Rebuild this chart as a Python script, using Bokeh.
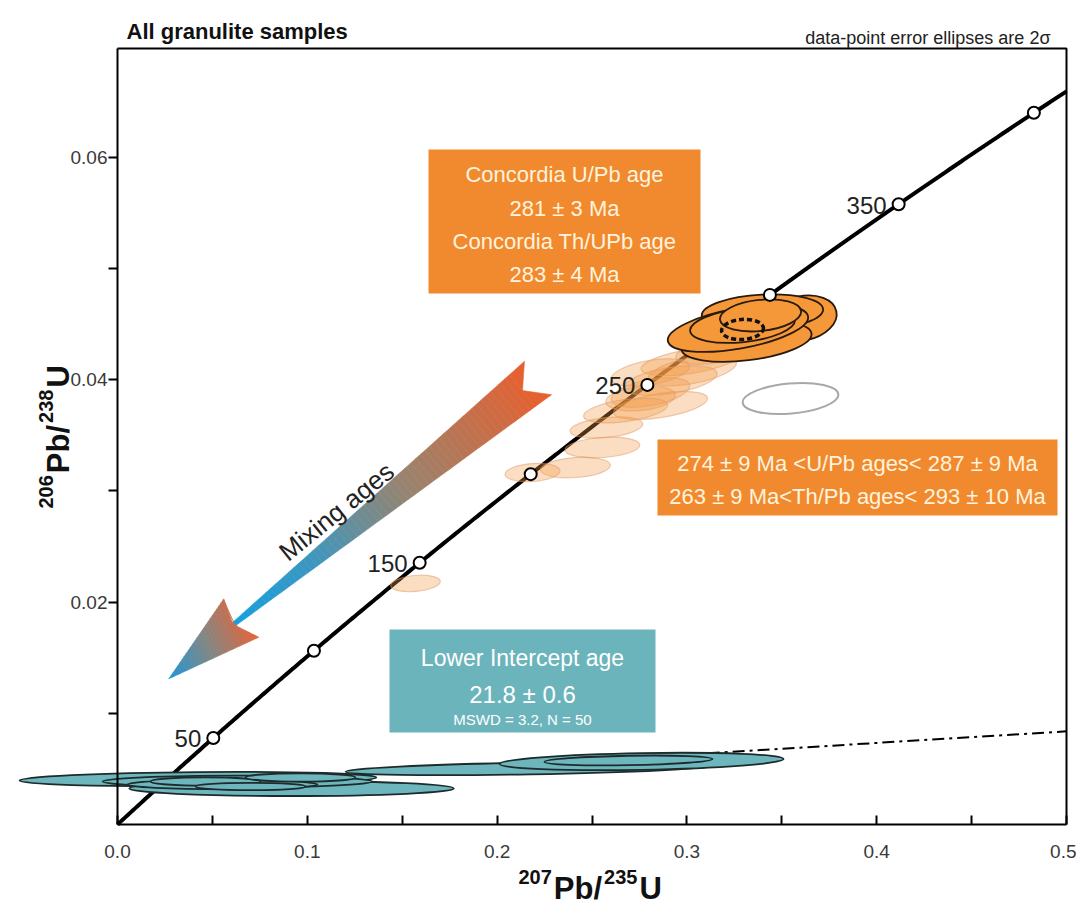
import numpy as np
from bokeh.plotting import figure
from bokeh.models import Range1d, FixedTicker, PrintfTickFormatter, Label, BoxAnnotation
from bokeh.embed import file_html
from bokeh.resources import INLINE
from bokeh.core.properties import value

# ---------------- data ----------------
conc_ages = [50, 100, 150, 200, 250, 300, 350, 400]          # Ma, concordia markers
conc_label_ages = [50, 150, 250, 350]
conc_label_text = ["50", "150", "250", "350"]
LAMBDA_238 = 1.55125e-4   # 1/Ma
LAMBDA_235 = 9.8485e-4    # 1/Ma

disc_x = [0.0217, 0.5]          # discordia (lower intercept 21.8 Ma)
disc_y = [0.00339, 0.00838]

# lower-intercept (cyan) ellipses: centre, full width, full height, tilt (deg)
cyan_x = [0.0424, 0.0917, 0.0632, 0.0553, 0.0464, 0.0701, 0.0964, 0.2176, 0.2761, 0.2692]
cyan_y = [0.00409, 0.00324, 0.00387, 0.00360, 0.00387, 0.00342, 0.00423, 0.00504, 0.00567, 0.00576]
cyan_w = [0.188, 0.171, 0.142, 0.100, 0.058, 0.058, 0.058, 0.195, 0.1496, 0.0885]
cyan_h = [0.00125, 0.00135, 0.00105, 0.00085, 0.00075, 0.00065, 0.00075, 0.00105, 0.00150, 0.00085]
cyan_a = [0.5, 0, 0, 0, 0, 0, 0, 1, 1, 1]

# concordant (solid orange) ellipses
org_x = [0.3609, 0.3398, 0.3314, 0.3269, 0.3293, 0.3388]
org_y = [0.04552, 0.04606, 0.04345, 0.04460, 0.04489, 0.04579]
org_w = [0.0365, 0.0640, 0.0690, 0.0750, 0.0555, 0.0430]
org_h = [0.00400, 0.00320, 0.00340, 0.00360, 0.00300, 0.00280]
org_a = [12, 3, 7, 10, 6, 6]

# concordia age ellipse (dashed)
cage_x, cage_y, cage_w, cage_h = [0.3293], [0.04453], [0.0221], [0.0018]

# mixing (pale orange) ellipses
pale_x = [0.3019, 0.3029, 0.2914, 0.2861, 0.2808, 0.2756, 0.2576, 0.2555, 0.2413, 0.2187, 0.1570, 0.2677, 0.2808, 0.3124]
pale_y = [0.04165, 0.04084, 0.03994, 0.03769, 0.03886, 0.03832, 0.03571, 0.03391, 0.03211, 0.03166, 0.02168, 0.03724, 0.04066, 0.04246]
pale_w = [0.0527, 0.0474, 0.0495, 0.0501, 0.0421, 0.0369, 0.0385, 0.0395, 0.0369, 0.0290, 0.0263, 0.0448, 0.0421, 0.0369]
pale_h = [0.00216, 0.00234, 0.00234, 0.00216, 0.00234, 0.00216, 0.00180, 0.00180, 0.00180, 0.00162, 0.00144, 0.00198, 0.00216, 0.00198]
pale_a = [9, 11, 9, 9, 11, 6, 6, 4, 4, 4, 5, 8, 10, 8]

# excluded (grey) ellipse
grey_x, grey_y, grey_w, grey_h, grey_a = [0.3546], [0.03832], [0.0506], [0.0027], [5]

x_ticks = [0.0, 0.1, 0.2, 0.3, 0.4, 0.5]
x_minor = [0.05, 0.15, 0.25, 0.35, 0.45]
y_ticks = [0.02, 0.04, 0.06]
y_minor = [0.01, 0.03, 0.05]

# ---------------- layout helpers (reference pixel -> data) ----------------
XMAX, YMAX = 0.5, 0.0698
FL, FR, FT, FB = 117, 1066, 48, 824
def dx(px): return (px - FL) / (FR - FL) * XMAX
def dy(py): return (FB - py) / (FB - FT) * YMAX

W, H = 1076, 909
F = "Liberation Sans"
ORANGE_BOX = "#F18A2E"
CYAN_BOX = "#6CB4BC"

# the frame fills the whole canvas; axes are pinned at x=0 / y=0
p = figure(width=W, height=H, x_range=Range1d(dx(0), dx(W)), y_range=Range1d(dy(H), dy(0)),
           output_backend="svg", toolbar_location=None, min_border=0)
p.xgrid.visible = False
p.ygrid.visible = False
p.outline_line_alpha = 0
p.background_fill_color = "white"
p.border_fill_color = "white"

xa = p.xaxis[0]
xa.fixed_location = 0
xa.bounds = (0, XMAX)
xa.ticker = FixedTicker(ticks=x_ticks, minor_ticks=x_minor)
xa.formatter = PrintfTickFormatter(format="%.1f")
xa.major_tick_in = 9; xa.major_tick_out = 0
xa.minor_tick_in = 9; xa.minor_tick_out = 0
ya = p.yaxis[0]
ya.fixed_location = 0
ya.bounds = (0, YMAX)
ya.ticker = FixedTicker(ticks=y_ticks, minor_ticks=y_minor)
ya.formatter = PrintfTickFormatter(format="%.2f")
ya.major_tick_in = 0; ya.major_tick_out = 9
ya.minor_tick_in = 0; ya.minor_tick_out = 9
for ax in (xa, ya):
    ax.axis_line_width = 2
    ax.major_tick_line_width = 2
    ax.minor_tick_line_width = 2
    ax.major_label_text_font = F
    ax.major_label_text_font_size = "19px"
    ax.major_label_text_color = "#3a3a3a"
xa.major_label_standoff = 20
ya.major_label_standoff = 1

# plot box (top and right edges)
p.line([0, XMAX, XMAX], [YMAX, YMAX, 0], line_color="black", line_width=2)

# ---------------- mixing arrow (gradient, decorative) ----------------
def interp_color(stops, s):
    s = min(max(s, stops[0][0]), stops[-1][0])
    for (s0, c0), (s1, c1) in zip(stops[:-1], stops[1:]):
        if s <= s1:
            t = (s - s0) / (s1 - s0)
            return "#%02x%02x%02x" % tuple(int(round(c0[i] + (c1[i] - c0[i]) * t)) for i in range(3))
    return "#%02x%02x%02x" % stops[-1][1]

def clip(poly, nx, ny, c):
    out = []
    n = len(poly)
    for i in range(n):
        P = poly[i]; Q = poly[(i + 1) % n]
        dp = nx * P[0] + ny * P[1] - c
        dq = nx * Q[0] + ny * Q[1] - c
        if dp >= 0:
            out.append(P)
        if (dp >= 0) != (dq >= 0):
            t = dp / (dp - dq)
            out.append((P[0] + t * (Q[0] - P[0]), P[1] + t * (Q[1] - P[1])))
    return out

shaft_stops = [(0.0, (22, 160, 222)), (0.25, (62, 150, 190)), (0.55, (150, 132, 112)), (1.0, (233, 95, 45))]
C0 = np.array([238.0, 620.0]); C1 = np.array([537.5, 377.5])
L = np.linalg.norm(C1 - C0); u = (C1 - C0) / L; nrm = np.array([-u[1], u[0]])
def cpt(s): return C0 + s * (C1 - C0)
def hw(s): return 2.5 + 19.0 * s
sn = 1 - 20.0 / L
xs_list, ys_list, cols = [], [], []
N = 60
for k in range(N):
    s0 = -0.03 + (sn + 0.03) * k / N
    s1 = -0.03 + (sn + 0.03) * (k + 1) / N
    pts = [cpt(s0) - hw(s0) * nrm, cpt(s1) - hw(s1) * nrm, cpt(s1) + hw(s1) * nrm, cpt(s0) + hw(s0) * nrm]
    xs_list.append([dx(q[0]) for q in pts]); ys_list.append([dy(q[1]) for q in pts])
    cols.append(interp_color(shaft_stops, (s0 + s1) / 2))
tail = [cpt(sn) - hw(sn) * nrm, cpt(1) - hw(1) * nrm, cpt(sn), cpt(1) + hw(1) * nrm, cpt(sn) + hw(sn) * nrm]
xs_list.append([dx(q[0]) for q in tail]); ys_list.append([dy(q[1]) for q in tail])
cols.append(interp_color(shaft_stops, 0.98))

head = [(168.3, 678.3), (223.3, 598.3), (231.7, 621.7), (238.3, 626.7), (258.3, 636.7)]
g = np.array([0.908, -0.42]); g = g / np.linalg.norm(g)
proj = [g[0] * q[0] + g[1] * q[1] for q in head]
pmin, pmax = min(proj), max(proj)
head_stops = [(0.0, (30, 150, 215)), (0.5, (130, 135, 132)), (1.0, (230, 100, 55))]
NH = 30
for k in range(NH):
    lo = pmin + (pmax - pmin) * k / NH
    hi = pmin + (pmax - pmin) * (k + 1.05) / NH
    part = clip(head, g[0], g[1], lo)
    part = clip(part, -g[0], -g[1], -hi)
    if len(part) >= 3:
        xs_list.append([dx(q[0]) for q in part]); ys_list.append([dy(q[1]) for q in part])
        cols.append(interp_color(head_stops, (k + 0.5) / NH))
p.patches(xs_list, ys_list, fill_color=cols, line_color=cols, line_width=0.6)

# ---------------- discordia & concordia ----------------
p.line(disc_x, disc_y, line_color="black", line_width=2, line_dash="12 5 3 5")

t_curve = np.linspace(0, np.log(1 + XMAX) / LAMBDA_235, 300)
p.line(np.exp(LAMBDA_235 * t_curve) - 1, np.exp(LAMBDA_238 * t_curve) - 1, line_color="black", line_width=4)

# ---------------- ellipses ----------------
p.ellipse(cyan_x, cyan_y, width=cyan_w, height=cyan_h, angle=cyan_a, angle_units="deg",
          fill_color="#6DB6BE", fill_alpha=1, line_color="#1d2b2b", line_width=1.8)
p.ellipse(pale_x, pale_y, width=pale_w, height=pale_h, angle=pale_a, angle_units="deg",
          fill_color="#F39A45", fill_alpha=0.33, line_color="#E09A6A", line_alpha=0.5, line_width=1.2)
p.ellipse(grey_x, grey_y, width=grey_w, height=grey_h, angle=grey_a, angle_units="deg",
          fill_alpha=0, line_color="#A8A8A8", line_width=2)
p.ellipse(org_x, org_y, width=org_w, height=org_h, angle=org_a, angle_units="deg",
          fill_color="#F4983A", fill_alpha=1, line_color="#2a1a0c", line_width=1.8)
p.ellipse(cage_x, cage_y, width=cage_w, height=cage_h, angle=4, angle_units="deg",
          fill_alpha=0, line_color="#111111", line_width=3.5, line_dash="5 3")

mx = [np.exp(LAMBDA_235 * a) - 1 for a in conc_ages]
my = [np.exp(LAMBDA_238 * a) - 1 for a in conc_ages]
p.scatter(mx, my, size=12, marker="circle", fill_color="white", line_color="black", line_width=2)

lx = [np.exp(LAMBDA_235 * a) - 1 for a in conc_label_ages]
ly = [np.exp(LAMBDA_238 * a) - 1 for a in conc_label_ages]
p.text(lx, ly, text=conc_label_text, x_offset=-12, y_offset=1, text_align="right",
       text_baseline="alphabetic", text_font=value(F), text_font_size="24px", text_color="#222222")

# ---------------- annotation boxes & texts ----------------
def box(l, r, t, b, color):
    p.add_layout(BoxAnnotation(left=dx(l), right=dx(r), top=dy(t), bottom=dy(b),
                               fill_color=color, fill_alpha=1, line_alpha=0))

def lab(px, py, text, size, color, style="normal", align="center", baseline="middle", angle=0):
    p.add_layout(Label(x=dx(px), y=dy(py), text=text, text_font=F, text_font_size=size,
                       text_font_style=style, text_color=color, text_align=align,
                       text_baseline=baseline, angle=angle, angle_units="deg"))

box(428, 700, 149, 293, ORANGE_BOX)
box(657, 1057, 439, 515, ORANGE_BOX)
box(389, 655, 629, 732, CYAN_BOX)

CREAM = "#FFF3DE"
lab(564, 174, "Concordia U/Pb age", "22px", CREAM)
lab(564, 208, "281 ± 3 Ma", "22px", CREAM)
lab(564, 241, "Concordia Th/UPb age", "22px", CREAM)
lab(564, 274, "283 ± 4 Ma", "22px", CREAM)
lab(857, 463, "274 ± 9 Ma <U/Pb ages< 287 ± 9 Ma", "22px", CREAM)
lab(857, 496, "263 ± 9 Ma<Th/Pb ages< 293 ± 10 Ma", "22px", CREAM)
lab(522, 657, "Lower Intercept age", "23px", "white")
lab(522, 694, "21.8 ± 0.6", "24px", "white")
lab(522, 719, "MSWD = 3.2, N = 50", "15px", "white")

lab(336, 511, "Mixing ages", "26px", "#222222", angle=39)

# title & note
lab(126, 31, "All granulite samples", "22px", "#111111", style="bold", align="left", baseline="alphabetic")
lab(1050, 37, "data-point error ellipses are 2σ", "18px", "#222222", align="right", baseline="alphabetic")

# axis titles with superscripts (pieces separated by a small gap)
SUP, MAIN = "20px", "31px"
GAP = 2
wsup = 3 * 0.556 * 20
wpb = (0.667 + 0.611 + 0.278) * 31
x1 = 518 + wsup + GAP
x2 = x1 + wpb + GAP
lab(518, 876, "207", SUP, "#111111", style="bold", align="left", baseline="alphabetic")
lab(x1, 888, "Pb/", MAIN, "#111111", style="bold", align="left", baseline="alphabetic")
lab(x2, 876, "235", SUP, "#111111", style="bold", align="left", baseline="alphabetic")
lab(x2 + wsup + GAP, 888, "U", MAIN, "#111111", style="bold", align="left", baseline="alphabetic")

y0 = 508
y1 = y0 - wsup - GAP
y2 = y1 - wpb - GAP
lab(45, y0, "206", SUP, "#111111", style="bold", align="left", baseline="alphabetic", angle=90)
lab(58, y1, "Pb/", MAIN, "#111111", style="bold", align="left", baseline="alphabetic", angle=90)
lab(45, y2, "238", SUP, "#111111", style="bold", align="left", baseline="alphabetic", angle=90)
lab(58, y2 - wsup - GAP, "U", MAIN, "#111111", style="bold", align="left", baseline="alphabetic", angle=90)

open("out.html", "w").write(file_html(p, INLINE))
